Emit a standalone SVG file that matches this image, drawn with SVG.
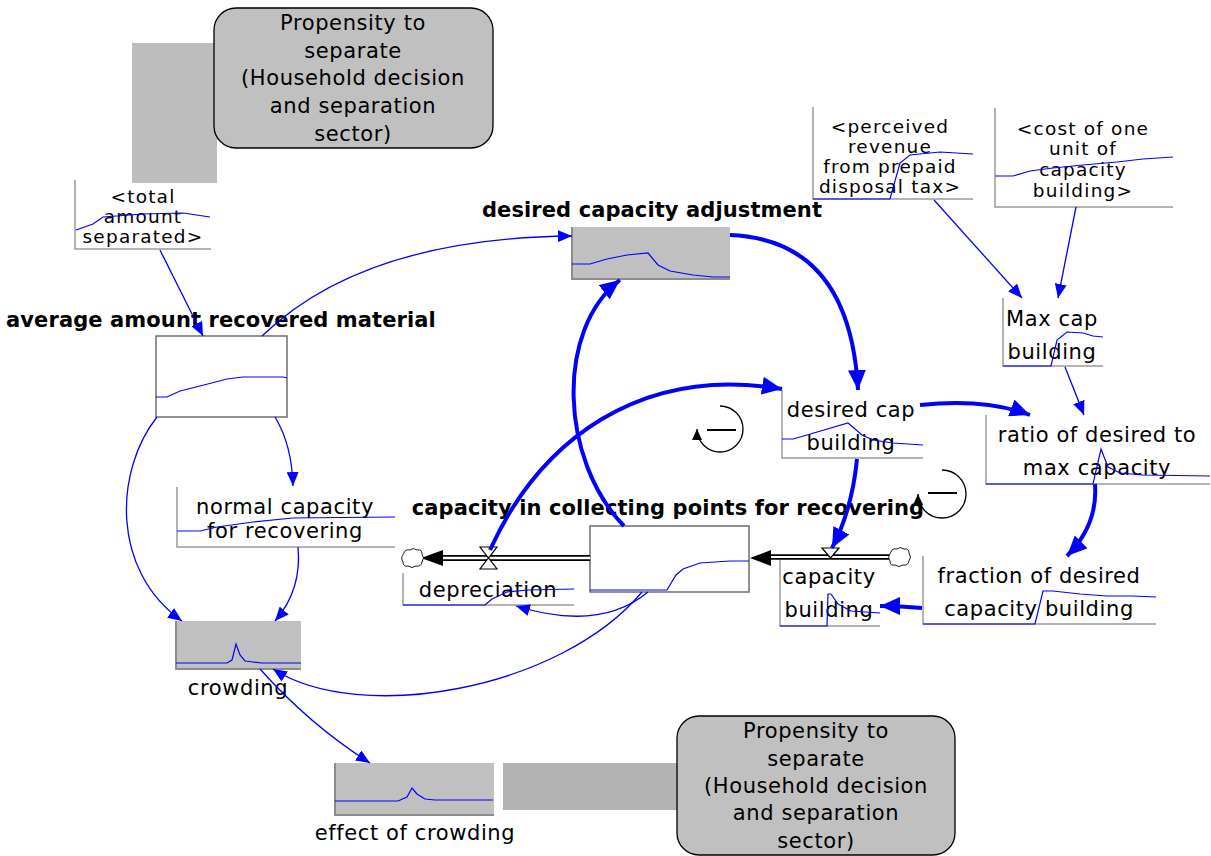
<svg xmlns="http://www.w3.org/2000/svg" width="1211" height="856" viewBox="0 0 1211 856">
<style>
text{font-family:"DejaVu Sans","Liberation Sans",sans-serif;font-size:21px;letter-spacing:0.6px;fill:#000;text-anchor:middle}
.b{font-weight:bold;letter-spacing:0.1px}
.s{font-size:18.5px;letter-spacing:1.2px}
.frame{fill:none;stroke:#9a9a9a;stroke-width:1.5}
.gbox{fill:#c0c0c0;stroke:none}
.gfr{fill:none;stroke:#8c8c8c;stroke-width:2}
.stock{fill:#fff;stroke:#6e6e6e;stroke-width:1.5}
.spark{fill:none;stroke:#0000ff;stroke-width:1.2}
.thin{fill:none;stroke:#0000ff;stroke-width:1.3;marker-end:url(#ah)}
.thick{fill:none;stroke:#0000ff;stroke-width:4;marker-end:url(#AH)}
.cloud{fill:#fff;stroke:#000;stroke-width:0.9}
.loop{fill:none;stroke:#000;stroke-width:1.3;marker-end:url(#lh)}
</style>
<defs>
<marker id="ah" markerUnits="userSpaceOnUse" markerWidth="16" markerHeight="12" refX="14" refY="6" orient="auto"><path d="M0,0 L14,6 L0,12 Z" fill="#0000ff"/></marker>
<marker id="AH" markerUnits="userSpaceOnUse" markerWidth="22" markerHeight="18" refX="20" refY="9" orient="auto"><path d="M0,0 L20,9 L0,18 Z" fill="#0000ff"/></marker>
<marker id="lh" markerUnits="userSpaceOnUse" markerWidth="12" markerHeight="12" refX="11" refY="5" orient="auto"><path d="M0,0 L11,5 L0,10 Z" fill="#000"/></marker>
</defs>

<g id="ghost-top">
<rect x="132" y="43" width="85" height="140" fill="#bdbdbd"/>
</g>
<g id="propensity-top">
<rect x="214" y="8" width="279" height="140" rx="22" fill="#c0c0c0" stroke="#000" stroke-width="1.3"/>
<text x="353" y="30">Propensity to</text>
<text x="353" y="58">separate</text>
<text x="353" y="85">(Household decision</text>
<text x="353" y="113">and separation</text>
<text x="353" y="141">sector)</text>
</g>

<g id="total-amount-separated">
<path class="frame" d="M75,180 V249 H211"/>
<text class="s" x="143" y="203">&lt;total</text>
<text class="s" x="143" y="223">amount</text>
<text class="s" x="143" y="243">separated&gt;</text>
<path class="spark" d="M76,230 L93,224 L103,217 L143,214 L183,213 L210,217"/>
</g>

<g id="average-amount-recovered-material">
<text class="b" x="221" y="327">average amount recovered material</text>
<rect class="stock" x="156" y="336" width="131" height="81"/>
<path class="spark" d="M156,397 L167,397 L180,391 L200,386 L227,379 L243,377 L283,377 L287,378"/>
</g>

<g id="desired-capacity-adjustment">
<text class="b" x="652" y="217">desired capacity adjustment</text>
<rect class="gbox" x="572" y="227" width="158" height="52"/>
<path class="gfr" d="M572,227 V279 H730"/>
<path class="spark" d="M572,264 L590,264 L607,259 L627,255 L648,253 L658,265 L670,271 L693,275 L713,277 L730,277"/>
</g>

<g id="perceived-revenue">
<path class="frame" d="M813,107 V199 H973"/>
<text class="s" x="890" y="133">&lt;perceived</text>
<text class="s" x="890" y="153">revenue</text>
<text class="s" x="890" y="173">from prepaid</text>
<text class="s" x="890" y="193">disposal tax&gt;</text>
<path class="spark" d="M813,199 L890,199 L900,163 L910,155 L940,152 L973,154"/>
</g>

<g id="cost-of-one-unit">
<path class="frame" d="M995,108 V207 H1173"/>
<text class="s" x="1083" y="135">&lt;cost of one</text>
<text class="s" x="1083" y="155">unit of</text>
<text class="s" x="1083" y="176">capacity</text>
<text class="s" x="1083" y="197">building&gt;</text>
<path class="spark" d="M995,176 L1013,176 L1030,171 L1053,168 L1083,165 L1117,162 L1143,159 L1173,157"/>
</g>

<g id="max-cap-building">
<path class="frame" d="M1003,298 V366 H1103"/>
<text x="1052" y="326">Max cap</text>
<text x="1052" y="359">building</text>
<path class="spark" d="M1003,366 L1051,366 L1057,340 L1067,332 L1083,333 L1093,336 L1103,337"/>
</g>

<g id="desired-cap-building">
<path class="frame" d="M782,390 V458 H923"/>
<text x="851" y="417">desired cap</text>
<text x="851" y="450">building</text>
<path class="spark" d="M782,439 L793,439 L807,435 L848,423 L862,435 L873,440 L893,443 L923,445"/>
</g>

<g id="ratio-of-desired-to-max-capacity">
<path class="frame" d="M986,415 V484 H1210"/>
<text x="1097" y="442">ratio of desired to</text>
<text x="1097" y="475">max capacity</text>
<path class="spark" d="M986,484 L1093,484 L1101,449 L1108,467 L1120,473 L1143,475 L1210,476"/>
</g>

<g id="normal-capacity-for-recovering">
<path class="frame" d="M177,487 V547 H395"/>
<text x="285" y="514">normal capacity</text>
<text x="285" y="538">for recovering</text>
<path class="spark" d="M177,531 L200,531 L217,527 L253,522 L293,518 L395,517"/>
</g>

<g id="capacity-in-collecting-points">
<text class="b" x="668" y="515">capacity in collecting points for recovering</text>
<rect class="stock" x="590" y="526" width="159" height="66"/>
<path class="spark" d="M590,590 L667,590 L676,575 L683,569 L700,563 L730,561 L749,561"/>
</g>

<g id="depreciation-flow">
<line x1="438" y1="558" x2="590" y2="558" stroke="#000" stroke-width="6"/>
<line x1="436" y1="558" x2="590" y2="558" stroke="#fff" stroke-width="2.4"/>
<path d="M421,558 L443,550 L443,566 Z" fill="#000"/>
<path class="cloud" d="M404,553 Q405,549 410,550 Q413,547 417,550 Q422,549 422,554 Q425,558 422,562 Q421,567 416,566 Q412,569 408,566 Q403,567 403,562 Q400,558 404,553 Z"/>
<path d="M480,547 L497,547 L488.5,558 Z M480,569 L497,569 L488.5,558 Z" fill="#fff" stroke="#000" stroke-width="1.2"/>
<path class="frame" d="M403,573 V605 H574"/>
<text x="488" y="597">depreciation</text>
<path class="spark" d="M403,605 L485,605 L492,599 L507,592 L528,590 L574,589"/>
</g>

<g id="capacity-building-flow">
<line x1="768" y1="557" x2="890" y2="557" stroke="#000" stroke-width="5.5"/>
<line x1="766" y1="557" x2="890" y2="557" stroke="#fff" stroke-width="2"/>
<path d="M750,558 L771,550 L771,566 Z" fill="#000"/>
<path class="cloud" d="M891,552 Q892,548 897,549 Q900,546 904,549 Q909,548 909,553 Q912,557 909,561 Q908,566 903,565 Q899,568 895,565 Q890,566 890,561 Q887,557 891,552 Z"/>
<path d="M822,548 L839,548 L830.5,558 Z" fill="#fff" stroke="#000" stroke-width="1.2"/>
<path class="frame" d="M780,560 V626 H880"/>
<text x="829" y="584">capacity</text>
<text x="829" y="617">building</text>
<path class="spark" d="M780,626 L827,626 L828,594 L831,594 L838,604 L851,611 L880,613"/>
</g>

<g id="fraction-of-desired-capacity-building">
<path class="frame" d="M923,556 V624 H1156"/>
<text x="1039" y="583">fraction of desired</text>
<text x="1039" y="616">capacity building</text>
<path class="spark" d="M923,624 L1035,624 L1043,591 L1053,591 L1080,594 L1107,596 L1133,596 L1156,597"/>
</g>

<g id="crowding">
<rect class="gbox" x="176" y="621" width="125" height="48"/>
<path class="gfr" d="M176,621 V669 H301"/>
<path class="spark" d="M176,663 L227,663 L232,660 L236,644 L240,655 L245,661 L253,662 L262,663 L301,663"/>
<text x="238" y="695">crowding</text>
</g>

<g id="effect-of-crowding">
<rect class="gbox" x="335" y="763" width="159" height="52"/>
<path class="gfr" d="M335,763 V815 H494"/>
<path class="spark" d="M335,801 L398,801 L407,797 L412,788 L417,794 L425,799 L435,800 L493,800"/>
<text x="415" y="840">effect of crowding</text>
</g>

<g id="ghost-bottom">
<rect x="503" y="763" width="176" height="47" fill="#b3b3b3"/>
</g>
<g id="propensity-bottom">
<rect x="677" y="716" width="278" height="139" rx="22" fill="#c0c0c0" stroke="#000" stroke-width="1.3"/>
<text x="816" y="738">Propensity to</text>
<text x="816" y="766">separate</text>
<text x="816" y="793">(Household decision</text>
<text x="816" y="820">and separation</text>
<text x="816" y="848">sector)</text>
</g>

<g id="loops">
<path class="loop" d="M720,406 A23,23 0 1 1 697,429"/>
<line x1="707" y1="430" x2="736" y2="430" stroke="#000" stroke-width="2"/>
<path class="loop" d="M942,470 A24,24 0 1 1 918,494"/>
<line x1="928" y1="493" x2="957" y2="493" stroke="#000" stroke-width="2"/>
</g>

<g id="connectors">
<path class="thin" d="M160,250 L203,336"/>
<path class="thin" d="M262,336 Q363,238 572,236"/>
<path class="thin" d="M275,417 Q292,445 293,486"/>
<path class="thin" d="M157,417 C115,470 110,570 182,621"/>
<path class="thin" d="M298,547 Q302,590 275,621"/>
<path class="thin" d="M648,592 Q600,632 516,606"/>
<path class="thin" d="M642,592 C560,690 360,725 273,669"/>
<path class="thin" d="M260,669 Q310,725 370,763"/>
<path class="thin" d="M934,200 L1022,298"/>
<path class="thin" d="M1076,207 L1058,298"/>
<path class="thin" d="M1065,367 L1084,415"/>
<path class="thick" d="M730,235 Q850,240 858,390"/>
<path class="thick" d="M624,526 C560,460 555,330 620,280"/>
<path class="thick" d="M490,550 C540,440 640,365 782,389"/>
<path class="thick" d="M857,459 Q852,510 832,548"/>
<path class="thick" d="M920,405 Q985,398 1030,415"/>
<path class="thick" d="M1095,484 Q1098,525 1067,556"/>
<path class="thick" d="M922,608 Q900,606 880,606"/>
</g>
</svg>
